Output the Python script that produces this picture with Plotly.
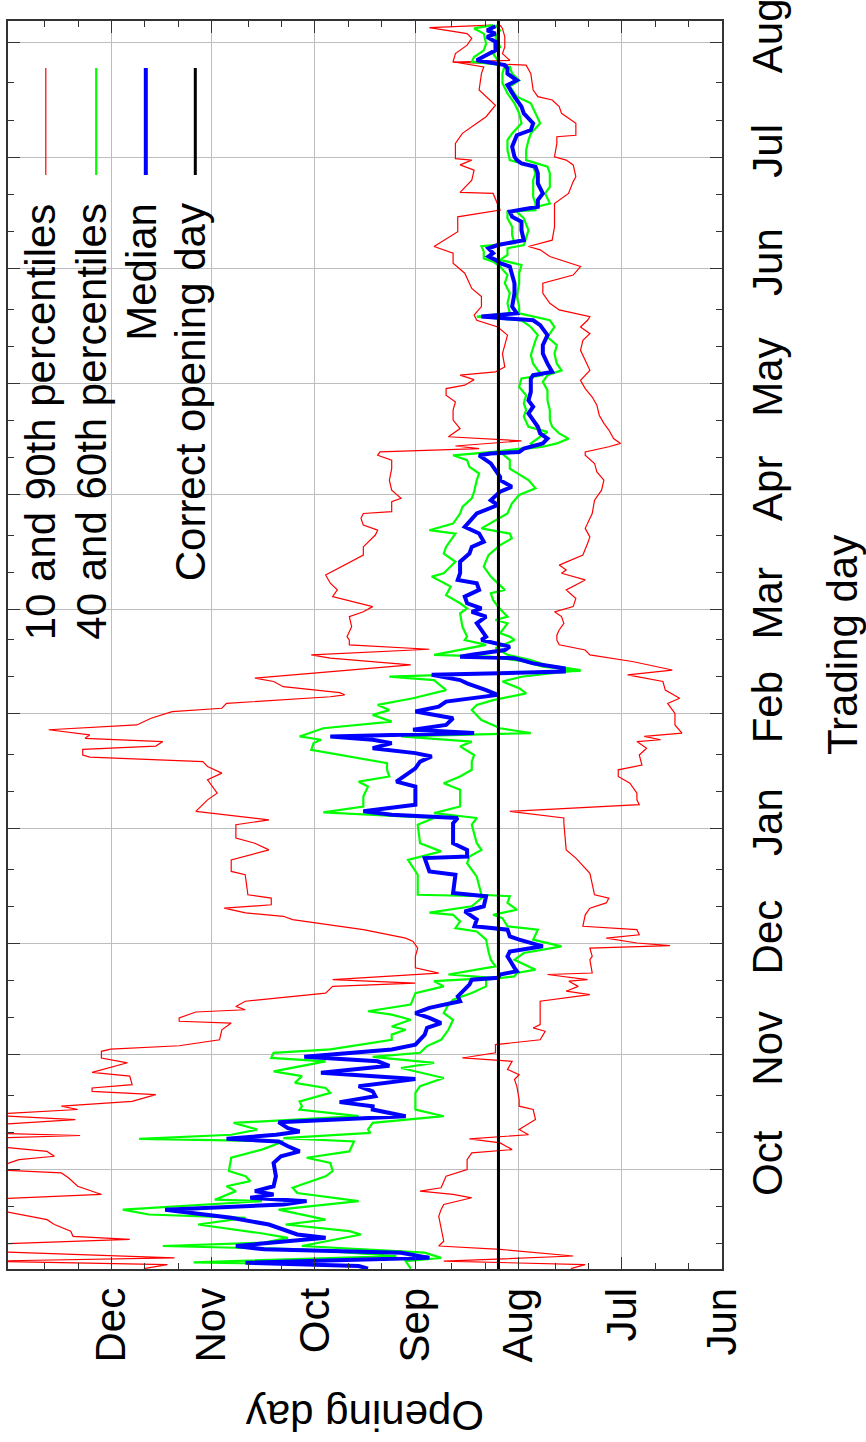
import plotly.graph_objects as go

FONT = "Liberation Sans, Arial, Helvetica, sans-serif"

# ---------------- axes (days since Jun 1 for opening day, days since Sep 1 for trading day)
opening_tick_vals = [0, 30, 61, 92, 122, 153, 183]
opening_tick_text = ["Jun", "Jul", "Aug", "Sep", "Oct", "Nov", "Dec"]
opening_minor_vals = [10, 20, 40, 50, 71, 81, 102, 112, 132, 142, 163, 173, 193, 203]
trading_tick_vals = [30, 61, 91, 122, 153, 181, 212, 242, 273, 303, 334]
trading_tick_text = ["Oct", "Nov", "Dec", "Jan", "Feb", "Mar", "Apr", "May", "Jun", "Jul", "Aug"]
trading_minor_vals = [10, 20, 40, 50, 71, 81, 101, 111, 132, 142, 163, 173, 191, 201,
                      222, 232, 252, 262, 283, 293, 313, 323]
opening_range = [214, 0]
trading_range = [3.2, 339.7]
correct_opening_day = 67

# ---------------- series: (trading day, opening day)
median_pts = [
    (3.3, 106.1), (4.0, 108.9), (4.9, 142.8), (6.2, 87.7), (7.6, 96.2), (8.5, 137.2), (9.4, 145.7),
    (10.7, 130.1), (11.6, 118.8), (12.5, 127.3), (13.8, 131.5), (15.2, 135.8), (17.0, 147.1),
    (18.3, 159.8), (19.2, 166.9), (20.6, 131.5), (21.5, 124.5), (22.4, 141.4), (23.3, 134.4),
    (24.2, 140.0), (25.5, 134.4), (28.2, 133.7), (31.8, 134.4), (33.6, 132.2), (34.9, 126.6),
    (36.3, 130.1), (37.6, 132.9), (38.3, 148.5), (39.4, 133.7), (40.3, 126.6), (41.2, 130.1),
    (42.8, 132.9), (44.4, 94.8), (46.2, 104.7),
    (47.1, 104.7), (48.2, 114.6), (49.8, 103.9), (51.1, 104.7), (52.5, 108.9), (54.4, 91.9),
    (56.1, 120.2), (58.0, 99.7), (59.2, 103.2), (60.4, 125.2), (62.4, 99.0), (63.7, 91.9),
    (66.4, 89.1), (68.2, 88.4), (69.5, 84.2), (70.9, 87.7), (72.2, 91.9), (73.6, 87.7),
    (75.4, 78.5), (76.7, 79.2), (78.5, 77.1), (79.9, 75.7), (81.2, 75.0), (81.7, 67.2),
    (82.6, 66.5), (83.5, 61.5), (84.4, 62.2), (86.6, 63.6),
    (87.5, 64.3), (88.8, 63.6), (90.2, 53.7), (92.0, 60.8), (92.9, 63.6), (94.7, 64.3),
    (95.6, 74.2), (97.4, 73.5), (99.6, 77.1), (101.0, 71.4), (103.7, 70.7), (104.6, 80.6),
    (109.5, 79.9), (110.4, 87.7), (112.6, 88.4), (114.0, 89.1), (114.4, 76.4), (116.2, 76.4),
    (118.0, 80.6), (123.4, 80.6), (124.8, 79.2), (125.7, 99.0), (126.6, 107.5), (128.4, 91.9),
    (129.7, 91.9),
    (131.5, 91.9), (133.3, 91.9), (134.6, 97.6), (138.2, 91.9), (140.0, 90.5), (141.4, 87.0),
    (142.3, 91.9), (143.6, 104.7), (145.0, 99.0), (145.9, 104.7), (146.8, 117.4), (147.7, 74.3),
    (148.6, 92.6), (149.9, 82.7), (151.7, 80.6), (153.5, 91.9), (154.8, 84.9), (156.2, 82.7),
    (158.0, 67.2), (159.3, 70.7), (161.1, 76.4), (162.0, 78.5), (163.4, 87.0), (164.3, 47.4),
    (165.2, 47.4), (166.5, 56.6), (167.9, 62.2), (168.3, 78.5), (168.8, 75.0), (170.1, 65.1),
    (171.0, 63.6), (172.8, 72.1),
    (173.7, 70.7), (175.5, 72.1), (177.3, 73.5), (179.1, 70.7), (180.4, 75.0), (181.3, 72.1),
    (182.7, 76.4), (184.5, 77.1), (186.3, 72.8), (188.1, 73.5), (189.0, 79.2), (190.8, 78.5),
    (193.9, 78.5), (196.1, 75.7), (197.9, 75.0), (199.3, 71.4), (201.5, 72.8), (203.3, 77.1),
    (206.9, 73.5), (209.2, 67.2), (210.5, 69.3), (212.8, 66.5), (214.1, 63.0), (215.9, 66.5),
    (216.8, 66.5), (218.6, 67.9), (220.4, 69.3), (222.6, 72.8), (223.1, 69.3), (223.5, 60.8),
    (224.4, 59.4), (225.8, 53.7), (227.1, 52.3), (228.5, 54.5), (230.3, 55.2), (232.1, 56.6),
    (233.9, 58.0), (235.7, 56.6), (237.4, 58.0), (239.7, 57.3), (243.3, 57.3), (244.2, 56.6),
    (245.1, 50.9), (247.3, 52.3), (250.0, 53.7), (252.3, 53.7), (255.0, 52.3), (257.7, 54.5),
    (259.0, 56.6),
    (260.0, 72.1), (260.9, 61.5), (262.7, 62.9), (266.3, 62.2), (269.0, 62.2), (271.2, 62.9),
    (273.5, 63.6), (274.4, 66.5), (275.3, 67.9), (276.2, 70.0), (277.1, 68.6), (278.4, 70.0),
    (279.3, 67.2), (280.6, 59.4), (283.3, 60.1), (285.6, 60.1), (286.9, 62.9), (288.3, 63.6),
    (289.6, 55.2), (291.4, 55.2), (293.2, 53.7), (295.9, 55.2), (298.6, 55.2), (300.4, 55.9),
    (301.3, 60.1), (302.2, 61.5),
    (303.1, 62.2), (305.8, 62.9), (307.6, 62.2), (308.9, 61.5), (310.3, 57.3), (312.1, 56.6),
    (314.8, 59.4), (316.6, 60.1), (319.3, 62.2), (322.4, 64.3), (323.7, 61.5), (325.5, 64.3),
    (326.9, 64.3), (327.8, 65.1), (329.1, 73.5), (330.5, 70.7), (331.8, 67.9), (334.1, 67.9),
    (335.4, 70.4), (336.3, 67.9), (337.2, 70.4), (338.3, 67.9),
]

p60_pts = [
    (4.4, 118.8), (5.0, 158.4), (6.7, 97.6), (8.5, 125.9), (9.4, 167.6), (10.3, 137.2),
    (11.6, 130.1), (12.9, 138.6), (15.2, 157.0), (17.0, 142.8), (17.9, 171.8), (19.2, 179.6),
    (21.5, 137.9), (21.9, 152.0), (24.2, 145.7), (25.5, 148.5), (26.9, 141.4), (28.2, 142.8),
    (29.6, 147.8), (33.2, 147.1), (35.4, 137.9), (37.6, 131.5), (38.3, 174.7), (39.4, 147.1),
    (40.8, 139.3), (42.6, 146.4), (44.4, 108.9), (46.2, 126.6),
    (47.1, 125.9), (48.4, 126.6), (50.7, 117.4), (52.0, 118.8), (53.4, 128.0), (55.2, 125.9),
    (56.5, 134.4), (57.9, 125.9), (59.2, 118.8), (60.1, 135.1), (61.5, 134.4), (62.4, 117.4),
    (65.0, 99.0), (66.4, 99.0), (67.7, 94.8), (68.6, 99.0), (70.4, 93.3), (71.8, 99.0),
    (72.7, 106.1), (74.5, 93.3), (77.6, 91.9), (79.4, 83.4), (80.8, 86.3), (81.7, 68.6),
    (82.6, 82.0), (84.8, 67.9), (86.6, 69.3),
    (88.8, 70.0), (92.0, 70.7), (94.2, 73.5), (95.1, 79.9), (96.9, 78.5), (98.7, 80.6),
    (99.3, 87.7), (101.0, 75.0), (103.7, 71.4), (104.1, 91.2), (109.5, 91.2), (113.5, 94.1),
    (115.8, 84.2), (118.0, 90.5), (123.0, 91.2), (124.8, 86.3), (126.3, 119.5), (127.9, 107.5),
    (129.7, 107.5),
    (130.6, 107.5), (133.3, 106.1), (134.6, 108.9), (136.0, 99.7), (137.8, 100.4), (139.6, 100.4),
    (141.8, 114.6), (143.2, 123.1), (145.0, 122.4), (145.9, 120.2), (146.8, 126.6), (149.0, 119.5),
    (150.8, 99.0), (152.6, 104.7), (153.9, 99.7), (155.3, 103.2), (157.1, 92.6), (159.3, 82.7),
    (162.0, 86.3), (162.9, 99.7), (164.5, 42.4), (165.6, 53.7), (167.0, 59.4), (168.3, 69.3),
    (168.8, 86.3), (171.5, 70.7), (172.8, 77.1),
    (173.7, 76.4), (176.4, 77.8), (180.0, 78.5), (181.3, 76.4), (182.7, 78.5), (184.9, 82.7),
    (187.2, 81.3), (189.9, 87.0), (190.8, 83.4), (193.9, 79.9), (196.1, 83.4), (197.9, 82.7),
    (201.5, 79.9), (202.4, 87.7), (204.2, 80.6), (206.9, 78.5), (208.7, 77.8), (211.0, 75.0),
    (212.8, 74.3), (215.9, 73.5),
    (217.7, 72.8), (219.5, 75.7), (221.3, 76.4), (222.6, 80.6), (223.5, 68.6), (224.9, 55.9),
    (225.8, 57.3), (227.6, 54.5), (228.9, 52.3), (230.3, 58.0), (233.0, 59.4), (234.8, 58.7),
    (236.6, 59.4), (238.8, 58.7), (241.0, 60.8), (243.3, 60.1), (244.2, 53.7), (245.5, 55.2),
    (247.3, 56.6), (249.6, 57.3), (251.8, 56.6), (253.6, 55.9), (255.0, 55.2), (257.2, 57.3),
    (259.0, 60.1),
    (260.0, 73.5), (260.9, 63.6), (263.6, 64.3), (266.3, 63.6), (269.0, 65.1), (271.2, 64.3),
    (273.5, 66.5), (274.8, 68.6), (275.7, 71.4), (277.5, 71.4), (279.0, 72.1), (279.8, 62.2),
    (282.0, 62.9), (284.2, 62.9), (286.5, 64.3), (288.3, 64.3), (288.7, 55.9), (290.5, 55.9),
    (292.3, 56.6), (294.1, 56.6), (296.8, 56.6), (298.6, 55.9), (300.4, 56.6), (302.2, 63.6),
    (304.9, 64.3), (307.6, 64.3), (309.4, 62.9), (312.1, 60.1), (314.8, 60.8), (317.5, 62.2),
    (320.2, 64.3), (322.9, 65.8), (325.5, 65.8), (327.8, 65.1), (328.7, 75.0), (330.0, 74.3),
    (331.8, 71.4), (333.6, 70.7), (336.3, 71.4), (337.7, 74.3), (338.6, 68.6),
]

p40_pts = [
    (3.3, 93.3), (5.3, 94.8), (6.2, 84.2), (7.6, 89.1), (9.4, 125.9), (10.7, 118.1),
    (12.5, 108.2), (13.4, 111.7), (15.2, 130.8), (16.5, 118.8), (19.2, 132.9), (21.5, 108.9),
    (23.7, 127.3), (25.1, 128.7), (28.2, 118.8), (29.6, 116.7), (31.8, 117.4), (33.2, 124.5),
    (34.9, 111.7), (37.6, 110.3), (38.5, 131.5), (39.9, 105.4), (40.8, 106.1), (42.6, 104.7),
    (44.4, 83.4), (46.2, 91.9),
    (48.9, 91.9), (50.7, 91.9), (52.5, 90.5), (54.7, 83.4), (57.4, 96.2), (58.8, 86.3),
    (60.4, 104.7), (61.5, 90.5), (63.3, 88.4), (65.0, 84.2), (67.7, 82.0), (70.4, 80.6),
    (72.2, 83.4), (74.5, 82.0), (75.8, 80.6), (77.6, 75.0), (79.4, 70.7), (81.2, 70.7),
    (82.1, 62.2), (83.0, 61.5), (83.9, 55.9), (86.6, 62.2),
    (88.4, 59.4), (90.2, 48.1), (92.0, 56.6), (94.7, 55.2), (95.6, 64.3), (97.8, 65.8),
    (98.7, 68.6), (100.1, 61.5), (101.9, 64.3), (103.7, 63.6), (104.1, 72.1), (109.0, 73.5),
    (112.6, 76.4), (114.4, 75.7), (116.2, 72.1), (118.0, 73.5), (123.0, 75.0), (124.8, 73.5),
    (126.1, 86.3), (127.9, 78.5), (129.7, 78.5),
    (130.6, 78.5), (132.4, 78.5), (134.2, 83.4), (136.0, 78.5), (137.8, 75.0), (140.0, 75.0),
    (141.8, 74.3), (144.1, 78.5), (145.4, 75.0), (146.8, 96.2), (147.7, 57.3), (149.0, 66.5),
    (151.2, 72.1), (153.9, 75.0), (155.3, 73.5), (156.6, 68.6), (158.4, 58.7), (159.8, 60.8),
    (161.6, 65.8), (162.9, 60.1), (164.7, 42.4), (166.1, 53.0), (167.4, 57.3), (168.8, 64.3),
    (170.6, 67.9), (172.8, 62.2),
    (173.7, 63.6), (174.6, 66.5), (177.3, 64.3), (178.2, 67.9), (179.1, 64.3), (181.8, 67.2),
    (183.6, 68.6), (185.4, 69.3), (186.3, 65.1), (189.9, 69.3), (192.6, 71.4), (195.7, 70.0),
    (198.4, 66.5), (200.2, 63.0), (201.5, 63.6), (202.9, 72.1), (206.9, 64.3), (209.6, 63.0),
    (211.9, 60.8), (213.7, 55.9), (215.9, 58.0),
    (219.0, 63.6), (221.3, 63.6), (223.5, 66.5), (224.9, 53.7), (225.8, 49.5), (227.1, 46.0),
    (228.5, 48.8), (230.3, 50.9), (232.1, 51.6), (234.8, 51.6), (237.4, 52.3), (240.1, 52.3),
    (242.4, 53.7), (244.2, 52.3), (245.5, 48.1), (247.3, 49.5), (250.0, 50.2), (252.3, 49.5),
    (254.5, 52.3), (257.2, 50.2), (259.0, 51.6),
    (260.9, 60.8), (262.7, 60.8), (265.4, 61.5), (269.0, 60.8), (271.7, 60.8), (273.9, 60.1),
    (275.3, 66.5), (276.6, 64.3), (278.4, 64.3), (279.3, 59.4), (283.3, 58.0), (286.5, 59.4),
    (288.3, 61.5), (290.5, 51.6), (293.2, 53.0), (295.0, 51.6), (298.6, 51.6), (300.4, 52.3),
    (302.2, 58.7),
    (304.9, 58.7), (307.6, 58.0), (309.4, 57.3), (312.1, 54.5), (314.8, 55.9), (317.5, 57.3),
    (319.3, 61.5), (322.0, 63.6), (323.7, 60.8), (325.5, 62.9), (327.3, 63.6), (328.2, 66.5),
    (330.9, 68.6), (332.7, 66.5), (335.4, 67.9), (337.2, 66.5), (338.6, 67.9),
]

p10_pts = [
    (3.3, 45.3), (4.4, 41.0), (5.3, 83.4), (6.7, 44.6), (8.5, 66.5), (9.4, 84.9), (10.7, 83.4),
    (14.7, 84.2), (17.4, 84.9), (19.2, 84.2), (20.6, 83.4), (22.4, 75.0), (23.3, 80.6),
    (24.2, 90.5), (25.1, 84.2), (28.2, 82.7), (30.0, 76.4), (32.7, 76.4), (34.5, 75.0),
    (35.4, 62.9), (37.2, 66.5), (38.3, 75.7), (39.4, 58.0), (40.8, 60.8), (43.5, 55.9),
    (46.2, 56.6),
    (47.1, 60.8), (48.9, 60.8), (52.5, 61.5), (54.3, 62.2), (55.6, 60.8), (57.0, 64.3),
    (59.2, 62.9), (60.1, 77.8), (61.5, 67.9), (63.7, 67.9), (65.0, 54.5), (67.3, 53.0),
    (68.2, 56.6), (69.1, 54.5), (75.4, 54.5), (77.2, 39.6), (78.1, 46.7), (79.4, 43.1),
    (80.8, 45.9), (81.2, 40.3), (82.6, 52.3), (83.0, 38.9), (86.6, 39.6),
    (87.5, 38.9), (89.7, 39.6), (90.4, 15.6), (91.1, 25.5), (92.4, 34.7), (93.3, 24.8),
    (94.7, 25.5), (95.6, 41.7), (98.7, 41.0), (100.5, 39.6), (101.9, 34.7), (103.2, 33.9),
    (104.1, 38.2), (107.3, 38.9), (109.9, 39.6), (114.0, 43.8), (116.2, 46.7), (123.4, 47.4),
    (124.8, 47.4), (126.6, 63.6), (128.4, 24.8), (129.7, 25.5),
    (131.5, 25.5), (134.2, 27.6), (136.0, 31.1), (137.8, 31.1), (139.1, 24.0), (141.8, 24.8),
    (143.6, 22.6), (145.4, 25.5), (145.9, 18.4), (146.8, 23.3), (147.7, 12.0), (149.9, 14.1),
    (153.0, 14.1), (155.7, 16.3), (157.1, 12.7), (159.3, 17.0), (161.6, 17.7), (163.4, 28.3),
    (164.7, 14.9), (167.0, 26.9), (168.8, 39.6), (170.1, 41.0), (171.5, 48.8), (172.8, 49.5),
    (174.1, 49.5), (175.5, 48.8), (177.3, 47.4), (179.1, 48.1), (180.4, 50.2), (181.8, 44.6),
    (184.0, 43.8), (186.3, 46.7), (189.0, 41.0), (190.8, 48.1), (191.7, 46.7), (193.0, 48.8),
    (195.7, 41.7), (198.8, 40.3), (200.6, 39.6), (202.9, 41.0), (206.9, 38.9), (210.5, 38.2),
    (213.2, 36.1), (215.9, 35.4),
    (218.1, 37.5), (220.4, 38.2), (222.6, 41.0), (223.5, 41.0), (224.9, 33.9), (225.8, 30.4),
    (227.1, 32.5), (229.4, 33.9), (231.2, 35.4), (233.4, 36.8), (236.1, 37.5), (238.3, 38.9),
    (240.6, 41.0), (242.8, 42.4), (245.5, 39.6), (248.2, 41.0), (250.9, 42.4), (253.6, 41.7),
    (255.4, 39.6), (257.2, 42.4), (259.0, 40.3),
    (260.0, 39.6), (261.8, 48.8), (263.6, 51.6), (266.3, 53.7), (269.0, 53.7), (271.2, 44.6),
    (273.5, 42.4), (274.4, 45.3), (276.2, 51.6), (278.0, 54.5), (278.9, 58.0), (280.6, 50.9),
    (284.2, 50.2), (290.5, 50.2), (293.2, 46.0), (296.4, 44.6), (297.7, 43.8), (300.9, 44.6),
    (302.2, 46.7),
    (303.1, 50.2), (306.7, 49.5), (308.5, 49.5), (308.9, 43.8), (312.1, 43.8), (314.8, 48.1),
    (316.6, 48.8), (318.4, 50.9), (319.3, 55.2), (321.1, 56.6), (325.5, 57.3), (327.8, 58.7),
    (328.6, 80.6), (329.1, 63.6), (330.9, 65.8), (332.7, 65.1), (335.4, 65.1), (337.7, 65.8),
    (338.6, 66.5),
]

p90_pts = [
    (3.3, 173.3), (4.4, 166.2), (5.3, 222.0), (6.2, 164.1), (8.0, 222.0), (9.8, 222.0),
    (11.2, 177.5), (12.0, 194.5), (13.4, 195.2), (15.2, 200.1), (16.5, 202.3), (18.3, 212.9),
    (19.2, 218.0), (22.1, 218.0), (23.3, 186.0), (25.5, 193.1), (27.8, 195.9), (29.1, 198.0),
    (30.0, 218.0), (31.8, 213.6), (32.7, 210.7), (33.6, 200.1), (34.9, 202.3), (36.3, 218.0),
    (38.5, 218.0), (39.2, 192.4), (39.9, 222.0), (42.1, 218.0), (43.5, 193.8), (44.8, 222.0),
    (46.2, 193.1),
    (47.1, 198.0), (48.4, 176.8), (50.2, 169.7), (51.1, 188.8), (52.0, 188.8), (52.9, 176.8),
    (55.2, 177.5), (56.2, 188.8), (58.8, 178.2), (60.1, 186.0), (61.9, 186.0), (62.5, 183.2),
    (63.4, 162.7), (64.6, 154.2), (65.0, 150.6), (67.7, 149.9), (69.5, 147.1), (70.0, 162.7),
    (70.9, 162.7), (72.5, 157.7), (73.1, 142.9), (74.0, 145.7), (75.4, 142.9), (77.6, 118.8),
    (79.4, 116.7), (80.3, 92.0), (81.2, 116.7), (83.0, 84.9), (84.4, 91.9), (86.6, 91.9),
    (87.5, 91.9), (89.7, 91.2), (91.5, 92.6), (92.4, 94.8), (94.7, 107.5), (95.8, 116.0),
    (97.4, 128.7), (98.3, 131.5), (99.2, 142.8), (100.5, 149.2), (101.4, 135.1), (103.2, 135.1),
    (104.1, 142.1), (109.5, 142.9), (110.4, 147.1), (113.5, 147.1), (115.3, 139.3),
    (116.2, 135.8), (118.0, 140.0), (119.4, 145.7), (123.0, 145.7), (124.3, 135.8),
    (126.6, 157.7), (129.7, 154.2),
    (131.5, 151.3), (135.1, 154.2), (136.9, 149.9), (138.7, 154.2), (140.0, 155.6),
    (141.2, 189.5), (141.8, 191.6), (143.3, 191.6), (144.2, 169.7), (145.4, 167.6),
    (146.3, 190.9), (147.2, 189.5), (148.6, 201.8), (149.9, 175.4), (151.7, 171.1),
    (153.5, 164.8), (154.4, 149.9), (155.7, 148.5), (157.5, 117.4), (158.0, 113.1),
    (158.6, 114.6), (160.2, 131.5), (161.6, 134.4), (162.5, 140.0), (166.1, 93.3),
    (167.9, 117.4), (168.8, 123.1), (170.3, 87.7), (171.5, 111.7), (172.8, 111.7),
    (173.7, 112.4), (176.4, 111.0), (179.1, 111.7), (180.4, 107.5), (181.8, 104.7),
    (184.5, 116.7), (186.3, 115.3), (188.1, 117.4), (190.3, 118.8), (195.7, 107.5),
    (197.9, 107.5), (201.1, 103.9), (202.4, 103.2), (203.8, 107.5), (205.6, 108.2),
    (206.9, 107.5), (207.4, 99.0), (210.1, 99.0), (211.0, 96.2), (213.2, 99.0), (215.9, 99.7),
    (219.0, 99.0), (221.3, 99.0), (222.6, 103.2), (223.5, 102.5), (224.4, 72.8), (225.1, 79.9),
    (226.5, 60.1), (227.6, 82.0), (229.8, 78.5), (232.1, 80.6), (234.8, 80.6), (237.0, 79.9),
    (238.8, 82.7), (240.6, 82.7), (241.5, 77.1), (243.0, 74.3), (244.2, 78.5), (245.1, 67.9),
    (246.4, 65.1), (250.0, 65.8), (252.3, 65.1), (255.0, 64.3), (257.2, 67.2), (259.0, 73.5),
    (260.4, 74.3), (262.7, 72.1), (265.4, 72.1), (267.6, 75.0), (271.7, 77.1), (274.4, 80.6),
    (277.1, 80.6), (278.9, 86.3), (282.9, 79.2), (286.9, 79.2), (288.7, 66.5), (293.2, 68.6),
    (293.5, 78.5), (296.8, 75.0), (299.5, 74.3), (300.9, 78.5), (302.2, 75.0),
    (302.6, 79.9), (306.7, 79.9), (309.4, 77.8), (312.1, 73.5), (313.9, 70.7), (317.0, 67.9),
    (321.1, 72.8), (325.5, 72.1), (327.3, 71.4), (328.7, 80.6), (330.9, 79.9), (333.2, 76.4),
    (335.0, 75.0), (336.3, 76.4), (337.9, 87.7), (338.6, 69.3),
]

legend_labels = ["10 and 90th percentiles", "40 and 60th percentiles", "Median", "Correct opening day"]
RED, GREEN, BLUE, BLACK = "#ff0000", "#00ff00", "#0000ff", "#000000"
FS = 42

fig = go.Figure()


def add_series(pts, color, width):
    t, d = zip(*pts)
    fig.add_trace(go.Scatter(x=list(d), y=list(t), mode="lines",
                             line=dict(color=color, width=width),
                             showlegend=False, hoverinfo="skip"))


add_series(p10_pts, RED, 1.2)
add_series(p90_pts, RED, 1.2)
add_series(p40_pts, GREEN, 2.2)
add_series(p60_pts, GREEN, 2.2)
add_series(median_pts, BLUE, 4)

W, H = 866, 1442
L, R, T, B = 8, 144, 21, 173
PW, PH = W - L - R, H - T - B


def px(x):
    return (x - L) / PW


def py(y):
    return (H - B - y) / PH


axis_line = "#333333"
common = dict(ticks="inside", ticklen=12, tickwidth=1.3, tickcolor=axis_line,
              showline=True, linecolor=axis_line, linewidth=2, mirror="allticks",
              showgrid=True, gridcolor="#bdbdbd", gridwidth=1, zeroline=False,
              tickangle=-90, tickfont=dict(family=FONT, size=FS, color="black"),
              automargin=False, tickmode="array", ticklabeloverflow="allow")

fig.update_xaxes(range=opening_range, tickvals=opening_tick_vals, ticktext=opening_tick_text,
                 minor=dict(tickmode="array", tickvals=opening_minor_vals, ticks="inside",
                            ticklen=6, tickwidth=1.3, tickcolor=axis_line, showgrid=False),
                 ticklabelstandoff=0, **common)
fig.update_yaxes(range=trading_range, side="right", tickvals=trading_tick_vals,
                 ticktext=trading_tick_text,
                 minor=dict(tickmode="array", tickvals=trading_minor_vals, ticks="inside",
                            ticklen=6, tickwidth=1.3, tickcolor=axis_line, showgrid=False),
                 ticklabelstandoff=8, **common)

shapes = [
    # opaque key box (covers grid, not data)
    dict(type="rect", xref="paper", yref="paper", x0=0, x1=px(220), y0=py(743), y1=py(48),
         fillcolor="white", line=dict(width=0), layer="between"),
    dict(type="line", xref="x", yref="paper", x0=correct_opening_day, x1=correct_opening_day,
         y0=0, y1=1, line=dict(color=BLACK, width=3), layer="above"),
]
key_x = [45.8, 96.2, 145.8, 195.3]
key_style = [(RED, 1.2), (GREEN, 2.2), (BLUE, 4), (BLACK, 3)]
annotations = []
for xk, (col, wd), lab in zip(key_x, key_style, legend_labels):
    shapes.append(dict(type="line", xref="paper", yref="paper", x0=px(xk), x1=px(xk),
                       y0=py(175), y1=py(68), line=dict(color=col, width=wd)))
    annotations.append(dict(text=lab, xref="paper", yref="paper", x=px(xk - 5), y=py(201),
                            xanchor="center", yanchor="top", textangle=-90, showarrow=False,
                            font=dict(family=FONT, size=FS, color="black")))

annotations.append(dict(text="Opening day", xref="paper", yref="paper", x=px(365), y=py(1416),
                        xanchor="center", yanchor="middle", textangle=180, showarrow=False,
                        font=dict(family=FONT, size=FS, color="black")))
annotations.append(dict(text="Trading day", xref="paper", yref="paper", x=px(842), y=py(645),
                        xanchor="center", yanchor="middle", textangle=-90, showarrow=False,
                        font=dict(family=FONT, size=FS, color="black")))

fig.update_layout(width=W, height=H, template="none",
                  margin=dict(l=L, r=R, t=T, b=B, pad=0, autoexpand=False),
                  paper_bgcolor="white", plot_bgcolor="white", showlegend=False,
                  font=dict(family=FONT, size=FS, color="black"),
                  shapes=shapes, annotations=annotations)

fig.write_html("out.html")
